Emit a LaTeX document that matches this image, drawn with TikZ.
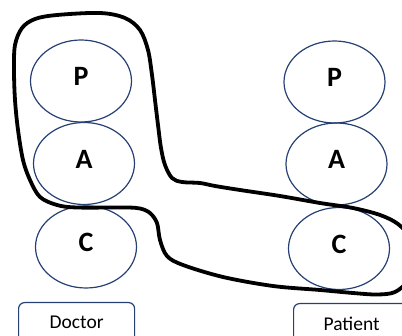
\documentclass[tikz,border=0pt]{standalone}
\usepackage{fontspec}
\setmainfont{Carlito}
\usetikzlibrary{shapes.geometric}
\definecolor{navy}{RGB}{38,64,115}
\tikzset{
  egg/.style={ellipse, draw=navy, line width=1.2pt, inner sep=0pt,
    minimum width=101pt, minimum height=82pt,
    font=\fontsize{28}{32}\selectfont\bfseries, text height=18pt, text depth=8pt},
  rolebox/.style={draw=navy, line width=1.2pt, rounded corners=6pt, inner sep=0pt,
    minimum width=116pt, text depth=20pt, font=\fontsize{19.5}{22}\selectfont},
  loop/.style={line width=3.8pt, black, line join=round}
}
\begin{document}
\begin{tikzpicture}[x=1pt,y=-1pt]
\useasboundingbox (0,0) rectangle (402,336);
\clip (0,0) rectangle (402,336);
% left column
\node[egg] (lp) at (81,81) {P};
\node[egg] (la) at (84,163.5) {A};
\node[egg] (lc) at (86,247) {C};
% right column
\node[egg] (rp) at (334.5,82) {P};
\node[egg] (ra) at (336.5,164) {A};
\node[egg] (rc) at (339,248.5) {C};
% boxes
\node[rolebox, anchor=north west, text height=26pt] (doc) at (18,302) {Doctor};
\node[rolebox, anchor=north west, text height=27pt] (pat) at (293,303) {Patient};
% loop
\draw[loop] plot[smooth cycle, tension=0.55] coordinates {
 (57,15) (100,13) (125,18) (140,30) (148,50) (152,75) (155,100) (158,125)
 (161,148) (165,165) (172,178) (182,182) (200,183) (215,186) (240,190)
 (280,196) (320,203) (353,208) (380,215) (398,224) (410,238)
 (414,258) (408,280) (395,292) (377,294.5) (353,293) (320,290) (273,286)
 (223,277) (183,265) (167,256) (160,240) (157,223) (150,213) (140,208.5)
 (125,207.5) (77,207.5) (57,205) (40,197) (30,180) (23,160) (18,130)
 (15,100) (14,70) (15,45) (22,28) (35,19)};
\end{tikzpicture}
\end{document}
